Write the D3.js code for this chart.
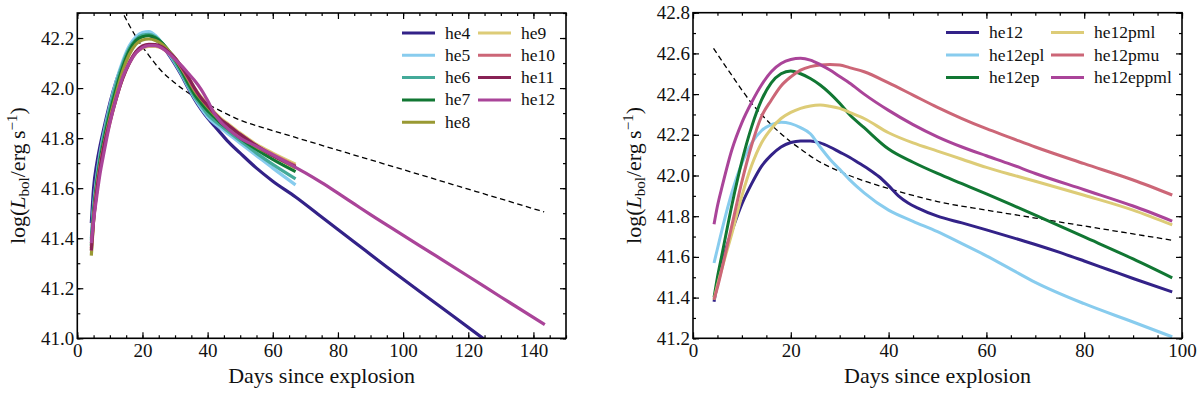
<!DOCTYPE html>
<html><head><meta charset="utf-8">
<script src="https://cdn.jsdelivr.net/npm/d3@7"></script>
<style>
body{margin:0;background:#fff;}
svg{display:block;}
text{font-family:"Liberation Serif","Times New Roman",serif;fill:#111;}
</style>
</head><body>
<svg id="c" width="1200" height="394"></svg>
<script>
// ---------------- DATA ----------------
// Reference (dashed) curve, shared by both panels
const dashDays = [4.2, 6, 8, 10, 12, 14, 16, 18, 20, 22, 25, 30, 35, 40, 45, 50, 60, 70, 80, 90, 98, 110, 120, 130, 143.3];
const dashVals = [42.625, 42.56, 42.49, 42.42, 42.355, 42.30, 42.25, 42.205, 42.165, 42.13, 42.08, 42.02, 41.973, 41.936, 41.902, 41.872, 41.83, 41.791, 41.752, 41.713, 41.682, 41.635, 41.596, 41.557, 41.505];

// Left panel: helium-star models (days shared up to 67 d)
const daysA = [4.3, 5, 6, 7, 8, 10, 12, 14, 16, 18, 20, 22, 24, 26, 28, 30, 32, 34, 36, 38, 40, 42, 44, 46, 50, 55, 60, 67];
const he4  = [41.46, 41.60, 41.70, 41.77, 41.83, 41.94, 42.03, 42.10, 42.16, 42.195, 42.21, 42.21, 42.195, 42.17, 42.135, 42.095, 42.05, 42.0, 41.955, 41.915, 41.88, 41.85, 41.82, 41.79, 41.74, 41.68, 41.628, 41.565];
const he4TailDays = [75, 85, 95, 105, 115, 125];
const he4Tail = [41.485, 41.385, 41.285, 41.188, 41.092, 40.995];
const he5  = [41.40, 41.53, 41.65, 41.74, 41.81, 41.93, 42.03, 42.11, 42.17, 42.205, 42.222, 42.226, 42.21, 42.18, 42.14, 42.10, 42.055, 42.005, 41.96, 41.92, 41.885, 41.86, 41.84, 41.82, 41.78, 41.73, 41.68, 41.613];
const he6  = [41.39, 41.52, 41.64, 41.73, 41.80, 41.92, 42.02, 42.10, 42.16, 42.195, 42.212, 42.215, 42.205, 42.18, 42.145, 42.105, 42.06, 42.01, 41.965, 41.93, 41.895, 41.87, 41.85, 41.83, 41.79, 41.74, 41.695, 41.637];
const he7  = [41.37, 41.50, 41.62, 41.71, 41.78, 41.90, 42.0, 42.085, 42.15, 42.19, 42.205, 42.209, 42.20, 42.18, 42.15, 42.115, 42.07, 42.02, 41.975, 41.94, 41.91, 41.885, 41.86, 41.84, 41.80, 41.755, 41.715, 41.666];
const he8  = [41.33, 41.47, 41.60, 41.69, 41.76, 41.88, 41.98, 42.07, 42.135, 42.175, 42.192, 42.196, 42.19, 42.175, 42.15, 42.12, 42.08, 42.035, 41.99, 41.955, 41.925, 41.895, 41.87, 41.85, 41.81, 41.765, 41.73, 41.68];
const he9  = [41.35, 41.47, 41.59, 41.68, 41.75, 41.86, 41.96, 42.04, 42.10, 42.14, 42.16, 42.167, 42.167, 42.16, 42.145, 42.12, 42.085, 42.045, 42.0, 41.965, 41.935, 41.905, 41.88, 41.86, 41.82, 41.775, 41.74, 41.696];
const he10 = [41.36, 41.48, 41.60, 41.69, 41.76, 41.87, 41.965, 42.045, 42.105, 42.145, 42.165, 42.172, 42.17, 42.16, 42.14, 42.115, 42.08, 42.04, 41.995, 41.96, 41.93, 41.90, 41.875, 41.855, 41.815, 41.77, 41.735, 41.69];
const he11 = [41.35, 41.47, 41.59, 41.68, 41.755, 41.865, 41.96, 42.04, 42.10, 42.145, 42.168, 42.175, 42.174, 42.165, 42.145, 42.12, 42.085, 42.045, 42.0, 41.96, 41.93, 41.90, 41.875, 41.855, 41.815, 41.77, 41.73, 41.686];
// he12 (used in both panels; right panel shows it up to 98 d)
const he12TailDays = [70, 75, 80, 85, 90, 98, 110, 120, 130, 143.5];
const he12 = [41.38, 41.47, 41.57, 41.66, 41.73, 41.86, 41.96, 42.045, 42.10, 42.14, 42.162, 42.17, 42.17, 42.16, 42.14, 42.115, 42.09, 42.06, 42.03, 41.995, 41.95, 41.90, 41.865, 41.84, 41.80, 41.767, 41.733, 41.683];
const he12Tail = [41.661, 41.622, 41.58, 41.537, 41.494, 41.428, 41.33, 41.248, 41.165, 41.055];

// Right panel: he12 variants
const daysR = [4.3, 5, 6, 8, 10, 12, 14, 16, 18, 20, 22, 24, 26, 28, 30, 32, 35, 40, 45, 50, 55, 60, 65, 70, 80, 90, 98];
const he12epl   = [41.57, 41.64, 41.74, 41.92, 42.06, 42.16, 42.22, 42.25, 42.262, 42.255, 42.235, 42.205, 42.14, 42.08, 42.03, 41.98, 41.915, 41.83, 41.775, 41.724, 41.665, 41.605, 41.54, 41.475, 41.37, 41.28, 41.207];
const he12ep    = [41.40, 41.50, 41.62, 41.86, 42.07, 42.24, 42.37, 42.455, 42.50, 42.514, 42.50, 42.477, 42.445, 42.404, 42.355, 42.30, 42.235, 42.13, 42.065, 42.01, 41.96, 41.91, 41.858, 41.805, 41.698, 41.59, 41.497];
const he12pml   = [41.39, 41.46, 41.55, 41.72, 41.90, 42.05, 42.16, 42.23, 42.28, 42.31, 42.33, 42.342, 42.346, 42.34, 42.33, 42.31, 42.28, 42.21, 42.16, 42.12, 42.08, 42.04, 42.005, 41.972, 41.903, 41.83, 41.757];
const he12pmu   = [41.39, 41.45, 41.55, 41.76, 41.97, 42.15, 42.29, 42.37, 42.44, 42.485, 42.518, 42.535, 42.543, 42.546, 42.543, 42.53, 42.51, 42.455, 42.395, 42.335, 42.28, 42.23, 42.185, 42.14, 42.058, 41.978, 41.904];
const he12eppml = [41.76, 41.85, 41.95, 42.13, 42.26, 42.36, 42.445, 42.51, 42.55, 42.57, 42.576, 42.567, 42.545, 42.518, 42.486, 42.455, 42.40, 42.32, 42.25, 42.19, 42.14, 42.097, 42.055, 42.01, 41.93, 41.85, 41.776];

const leftNames  = ["he4","he5","he6","he7","he8","he9","he10","he11","he12"];
const rightNames = ["he12","he12epl","he12ep","he12pml","he12pmu","he12eppml"];
const leftColors  = ["#332288","#88CCEE","#44AA99","#117733","#999933","#DDCC77","#CC6677","#882255","#AA4499"];
const rightColors = ["#332288","#88CCEE","#117733","#DDCC77","#CC6677","#AA4499"];

const leftXTicks = [0,20,40,60,80,100,120,140];
const leftYTicks = [41.0,41.2,41.4,41.6,41.8,42.0,42.2];
const rightXTicks = [0,20,40,60,80,100];
const rightYTicks = [41.2,41.4,41.6,41.8,42.0,42.2,42.4,42.6,42.8];

// ---------------- BUILD SERIES ----------------
const zip = (d, v) => d.map((x, i) => ({x, y: v[i]}));
const he12Full = zip(daysA.concat(he12TailDays), he12.concat(he12Tail));
const leftSeries = [
  zip(daysA.concat(he4TailDays), he4.concat(he4Tail)),
  zip(daysA, he5), zip(daysA, he6), zip(daysA, he7), zip(daysA, he8),
  zip(daysA, he9), zip(daysA, he10), zip(daysA, he11), he12Full
].map((pts, i) => ({name: leftNames[i], color: leftColors[i], pts}));
const rightSeries = [
  he12Full.filter(p => p.x <= 98),
  zip(daysR, he12epl), zip(daysR, he12ep), zip(daysR, he12pml), zip(daysR, he12pmu), zip(daysR, he12eppml)
].map((pts, i) => ({name: rightNames[i], color: rightColors[i], pts}));
const dashPts = zip(dashDays, dashVals);

const FONT = '"Liberation Serif","Times New Roman",serif';
const svg = d3.select("#c");
const FS = 19;

function panel(id, box, xDom, yDom, xTicks, yTicks, xMinorStep, yMinorStep, series, dash, legend, lw) {
  const x = d3.scaleLinear().domain(xDom).range([box.l, box.r]);
  const y = d3.scaleLinear().domain(yDom).range([box.b, box.t]);
  const g = svg.append("g").style("font-family", FONT);
  g.append("clipPath").attr("id", "clip" + id).append("rect")
    .attr("x", box.l).attr("y", box.t).attr("width", box.r - box.l).attr("height", box.b - box.t);
  const plot = g.append("g").attr("clip-path", `url(#clip${id})`);
  const line = d3.line().x(d => x(d.x)).y(d => y(d.y)).curve(d3.curveMonotoneX);

  plot.append("path").datum(dash).attr("d", line)
    .attr("fill", "none").attr("stroke", "#000").attr("stroke-width", 1.3).attr("stroke-dasharray", "5.5,3.5");
  series.forEach(s => {
    plot.append("path").datum(s.pts).attr("d", line)
      .attr("fill", "none").attr("stroke", s.color).attr("stroke-width", lw)
      .attr("stroke-linejoin", "round");
  });

  const xMinor = d3.range(xDom[0], xDom[1] + 1e-9, xMinorStep);
  const yMinor = d3.range(0, Math.round((yDom[1] - yDom[0]) / yMinorStep) + 1).map(i => yDom[0] + i * yMinorStep);

  const axes = [
    [d3.axisBottom(x).tickValues(xMinor).tickSize(-3).tickFormat(""), `translate(0,${box.b})`],
    [d3.axisTop(x).tickValues(xMinor).tickSize(-3).tickFormat(""), `translate(0,${box.t})`],
    [d3.axisLeft(y).tickValues(yMinor).tickSize(-3).tickFormat(""), `translate(${box.l},0)`],
    [d3.axisRight(y).tickValues(yMinor).tickSize(-3).tickFormat(""), `translate(${box.r},0)`],
    [d3.axisTop(x).tickValues(xTicks).tickSize(-6).tickFormat(""), `translate(0,${box.t})`],
    [d3.axisRight(y).tickValues(yTicks).tickSize(-6).tickFormat(""), `translate(${box.r},0)`],
    [d3.axisBottom(x).tickValues(xTicks).tickSize(-6).tickPadding(5).tickFormat(d3.format("d")), `translate(0,${box.b})`],
    [d3.axisLeft(y).tickValues(yTicks).tickSize(-6).tickPadding(3).tickFormat(d3.format(".1f")), `translate(${box.l},0)`]
  ];
  axes.forEach(([ax, tr]) => {
    const a = g.append("g").attr("transform", tr).call(ax).attr("font-family", null).attr("font-size", null);
    a.select(".domain").remove();
    a.selectAll("line").attr("stroke", "#000").attr("stroke-width", 1.2);
    a.selectAll("text").style("font-family", FONT).style("font-size", FS + "px").attr("fill", "#111");
  });
  g.append("rect").attr("x", box.l).attr("y", box.t).attr("width", box.r - box.l).attr("height", box.b - box.t)
    .attr("fill", "none").attr("stroke", "#000").attr("stroke-width", 1.6);

  // x label
  g.append("text").attr("x", (box.l + box.r) / 2).attr("y", 383).attr("text-anchor", "middle")
    .style("font-family", FONT).style("font-size", "22px").text("Days since explosion");
  // y label
  const yl = g.append("text").attr("transform", `translate(${box.l - 52},${(box.t + box.b) / 2}) rotate(-90)`)
    .attr("text-anchor", "middle").style("font-family", FONT).style("font-size", "22px");
  yl.append("tspan").text("log(");
  yl.append("tspan").style("font-style", "italic").text("L");
  yl.append("tspan").attr("dy", 4).style("font-size", "15px").text("bol");
  yl.append("tspan").attr("dy", -4).text("/erg\u2009s");
  yl.append("tspan").attr("dy", -8).style("font-size", "15px").text("\u22121");
  yl.append("tspan").attr("dy", 8).text(")");

  // legend
  series.forEach((s, i) => {
    const col = Math.floor(i / legend.rows), row = i % legend.rows;
    const lx = legend.x + col * legend.colW, ly = legend.y + row * legend.rowH;
    g.append("line").attr("x1", lx).attr("x2", lx + 33).attr("y1", ly).attr("y2", ly)
      .attr("stroke", s.color).attr("stroke-width", 3);
    g.append("text").attr("x", lx + 43).attr("y", ly + 5.5)
      .style("font-family", FONT).style("font-size", "17.5px").text(s.name);
  });
}

panel("L", {l: 77.3, r: 566, t: 13, b: 338.3}, [0, 150], [41.0, 42.3], leftXTicks, leftYTicks, 5, 0.1,
  leftSeries, dashPts, {x: 402, y: 33, rows: 5, colW: 76, rowH: 22.3}, 3.2);
panel("R", {l: 693, r: 1182, t: 12.7, b: 338.3}, [0, 100], [41.2, 42.8], rightXTicks, rightYTicks, 5, 0.1,
  rightSeries, dashPts.filter(p => p.x <= 98), {x: 946, y: 32.5, rows: 3, colW: 105, rowH: 22.5}, 3);
</script>
</body></html>
